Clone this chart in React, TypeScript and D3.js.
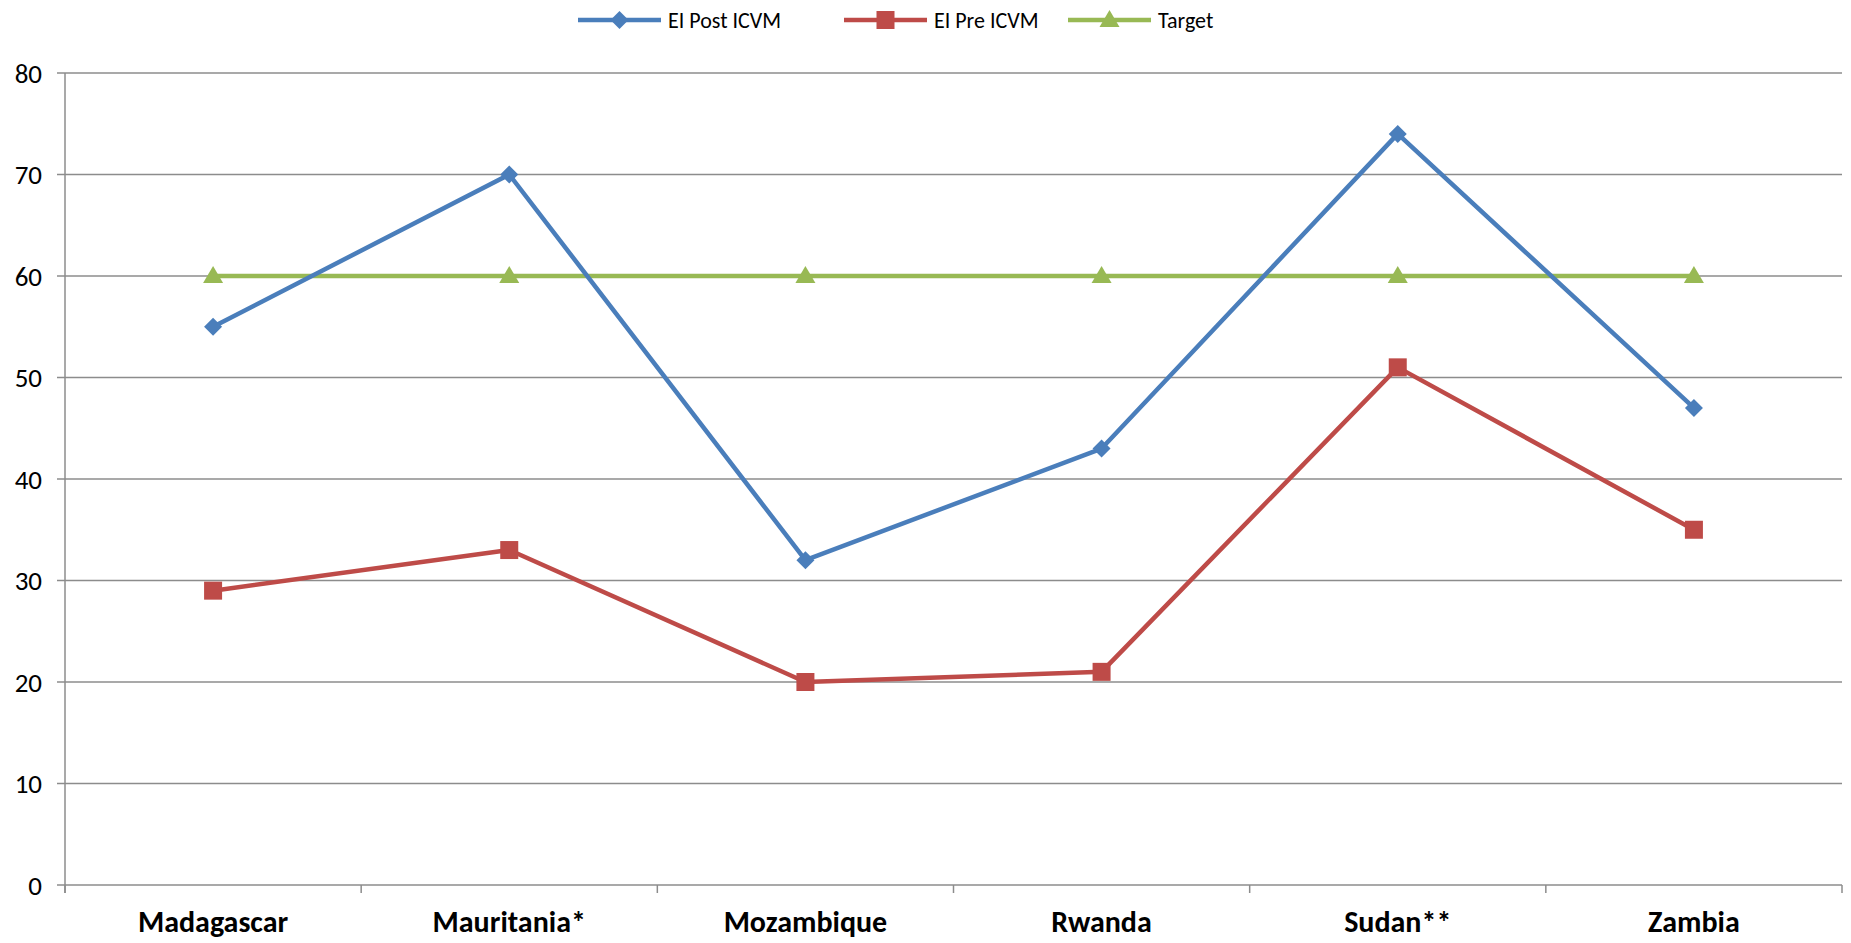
import React from "react";
import * as d3 from "d3";

const categories = ["Madagascar", "Mauritania*", "Mozambique", "Rwanda", "Sudan**", "Zambia"];
const postValues = [55, 70, 32, 43, 74, 47];
const preValues = [29, 33, 20, 21, 51, 35];
const targetValues = [60, 60, 60, 60, 60, 60];
const yTicks = [0, 10, 20, 30, 40, 50, 60, 70, 80];
const seriesNames = ["EI Post ICVM", "EI Pre ICVM", "Target"];

const W = 1851;
const H = 943;
const FONT = "Carlito, Lato, 'Open Sans', sans-serif";

const BLUE = "#4a7ebb";
const RED = "#be4b48";
const GREEN = "#98b954";
const GRID = "#8c8c8c";

function Marker({ type, x, y, color }: { type: string; x: number; y: number; color: string }) {
  if (type === "diamond") {
    const s = 9;
    return <path d={`M${x},${y - s}L${x + s},${y}L${x},${y + s}L${x - s},${y}Z`} fill={color} />;
  }
  if (type === "square") {
    const s = 9;
    return <rect x={x - s} y={y - s} width={2 * s} height={2 * s} fill={color} />;
  }
  const s = 10;
  return <path d={`M${x},${y - s}L${x + s},${y + s * 0.7}L${x - s},${y + s * 0.7}Z`} fill={color} />;
}

export default function App() {
  const margin = { left: 65, right: 9, top: 73, bottom: 58 };
  const x = d3.scaleBand().domain(categories).range([margin.left, W - margin.right]);
  const y = d3.scaleLinear().domain([0, 80]).range([H - margin.bottom, margin.top]);
  const cx = (c: string) => (x(c) as number) + x.bandwidth() / 2;

  const line = d3
    .line<[string, number]>()
    .x((d) => cx(d[0]))
    .y((d) => y(d[1]));

  const series = [
    { name: seriesNames[0], values: postValues, color: BLUE, marker: "diamond" },
    { name: seriesNames[1], values: preValues, color: RED, marker: "square" },
    { name: seriesNames[2], values: targetValues, color: GREEN, marker: "triangle" },
  ];
  const drawOrder = [series[2], series[1], series[0]];

  const legendX = [578, 844, 1068];
  const legendY = 20;

  const boundaries = [...categories.map((c) => x(c) as number), W - margin.right];

  return (
    <svg
      width={W}
      height={H}
      style={{ position: "absolute", left: 0, top: 0, background: "#fff" }}
      fontFamily={FONT}
    >
      {yTicks.map((t) => (
        <g key={t}>
          <line x1={margin.left - 8} x2={W - margin.right} y1={y(t)} y2={y(t)} stroke={GRID} strokeWidth={1.5} />
          <text x={margin.left - 23} y={y(t)} dy="0.36em" textAnchor="end" fontSize={27} fill="#000">
            {t}
          </text>
        </g>
      ))}
      <line x1={margin.left} x2={margin.left} y1={margin.top} y2={y(0) + 8} stroke={GRID} strokeWidth={1.5} />
      {boundaries.map((b, i) => (
        <line key={i} x1={b} x2={b} y1={y(0)} y2={y(0) + 8} stroke={GRID} strokeWidth={1.5} />
      ))}
      {categories.map((c) => (
        <text key={c} x={cx(c)} y={932} textAnchor="middle" fontSize={30} fontWeight="bold" fill="#000">
          {c}
        </text>
      ))}
      {drawOrder.map((s) => (
        <g key={s.name}>
          <path
            d={line(categories.map((c, i) => [c, s.values[i]]) as [string, number][]) || ""}
            fill="none"
            stroke={s.color}
            strokeWidth={4.5}
            strokeLinejoin="round"
          />
          {categories.map((c, i) => (
            <Marker key={c} type={s.marker} x={cx(c)} y={y(s.values[i])} color={s.color} />
          ))}
        </g>
      ))}
      {series.map((s, i) => (
        <g key={s.name}>
          <line x1={legendX[i]} x2={legendX[i] + 83} y1={legendY} y2={legendY} stroke={s.color} strokeWidth={4.5} />
          <Marker type={s.marker} x={legendX[i] + 41.5} y={legendY} color={s.color} />
          <text x={legendX[i] + 90} y={legendY} dy="0.36em" fontSize={22} fill="#000">
            {s.name}
          </text>
        </g>
      ))}
    </svg>
  );
}
